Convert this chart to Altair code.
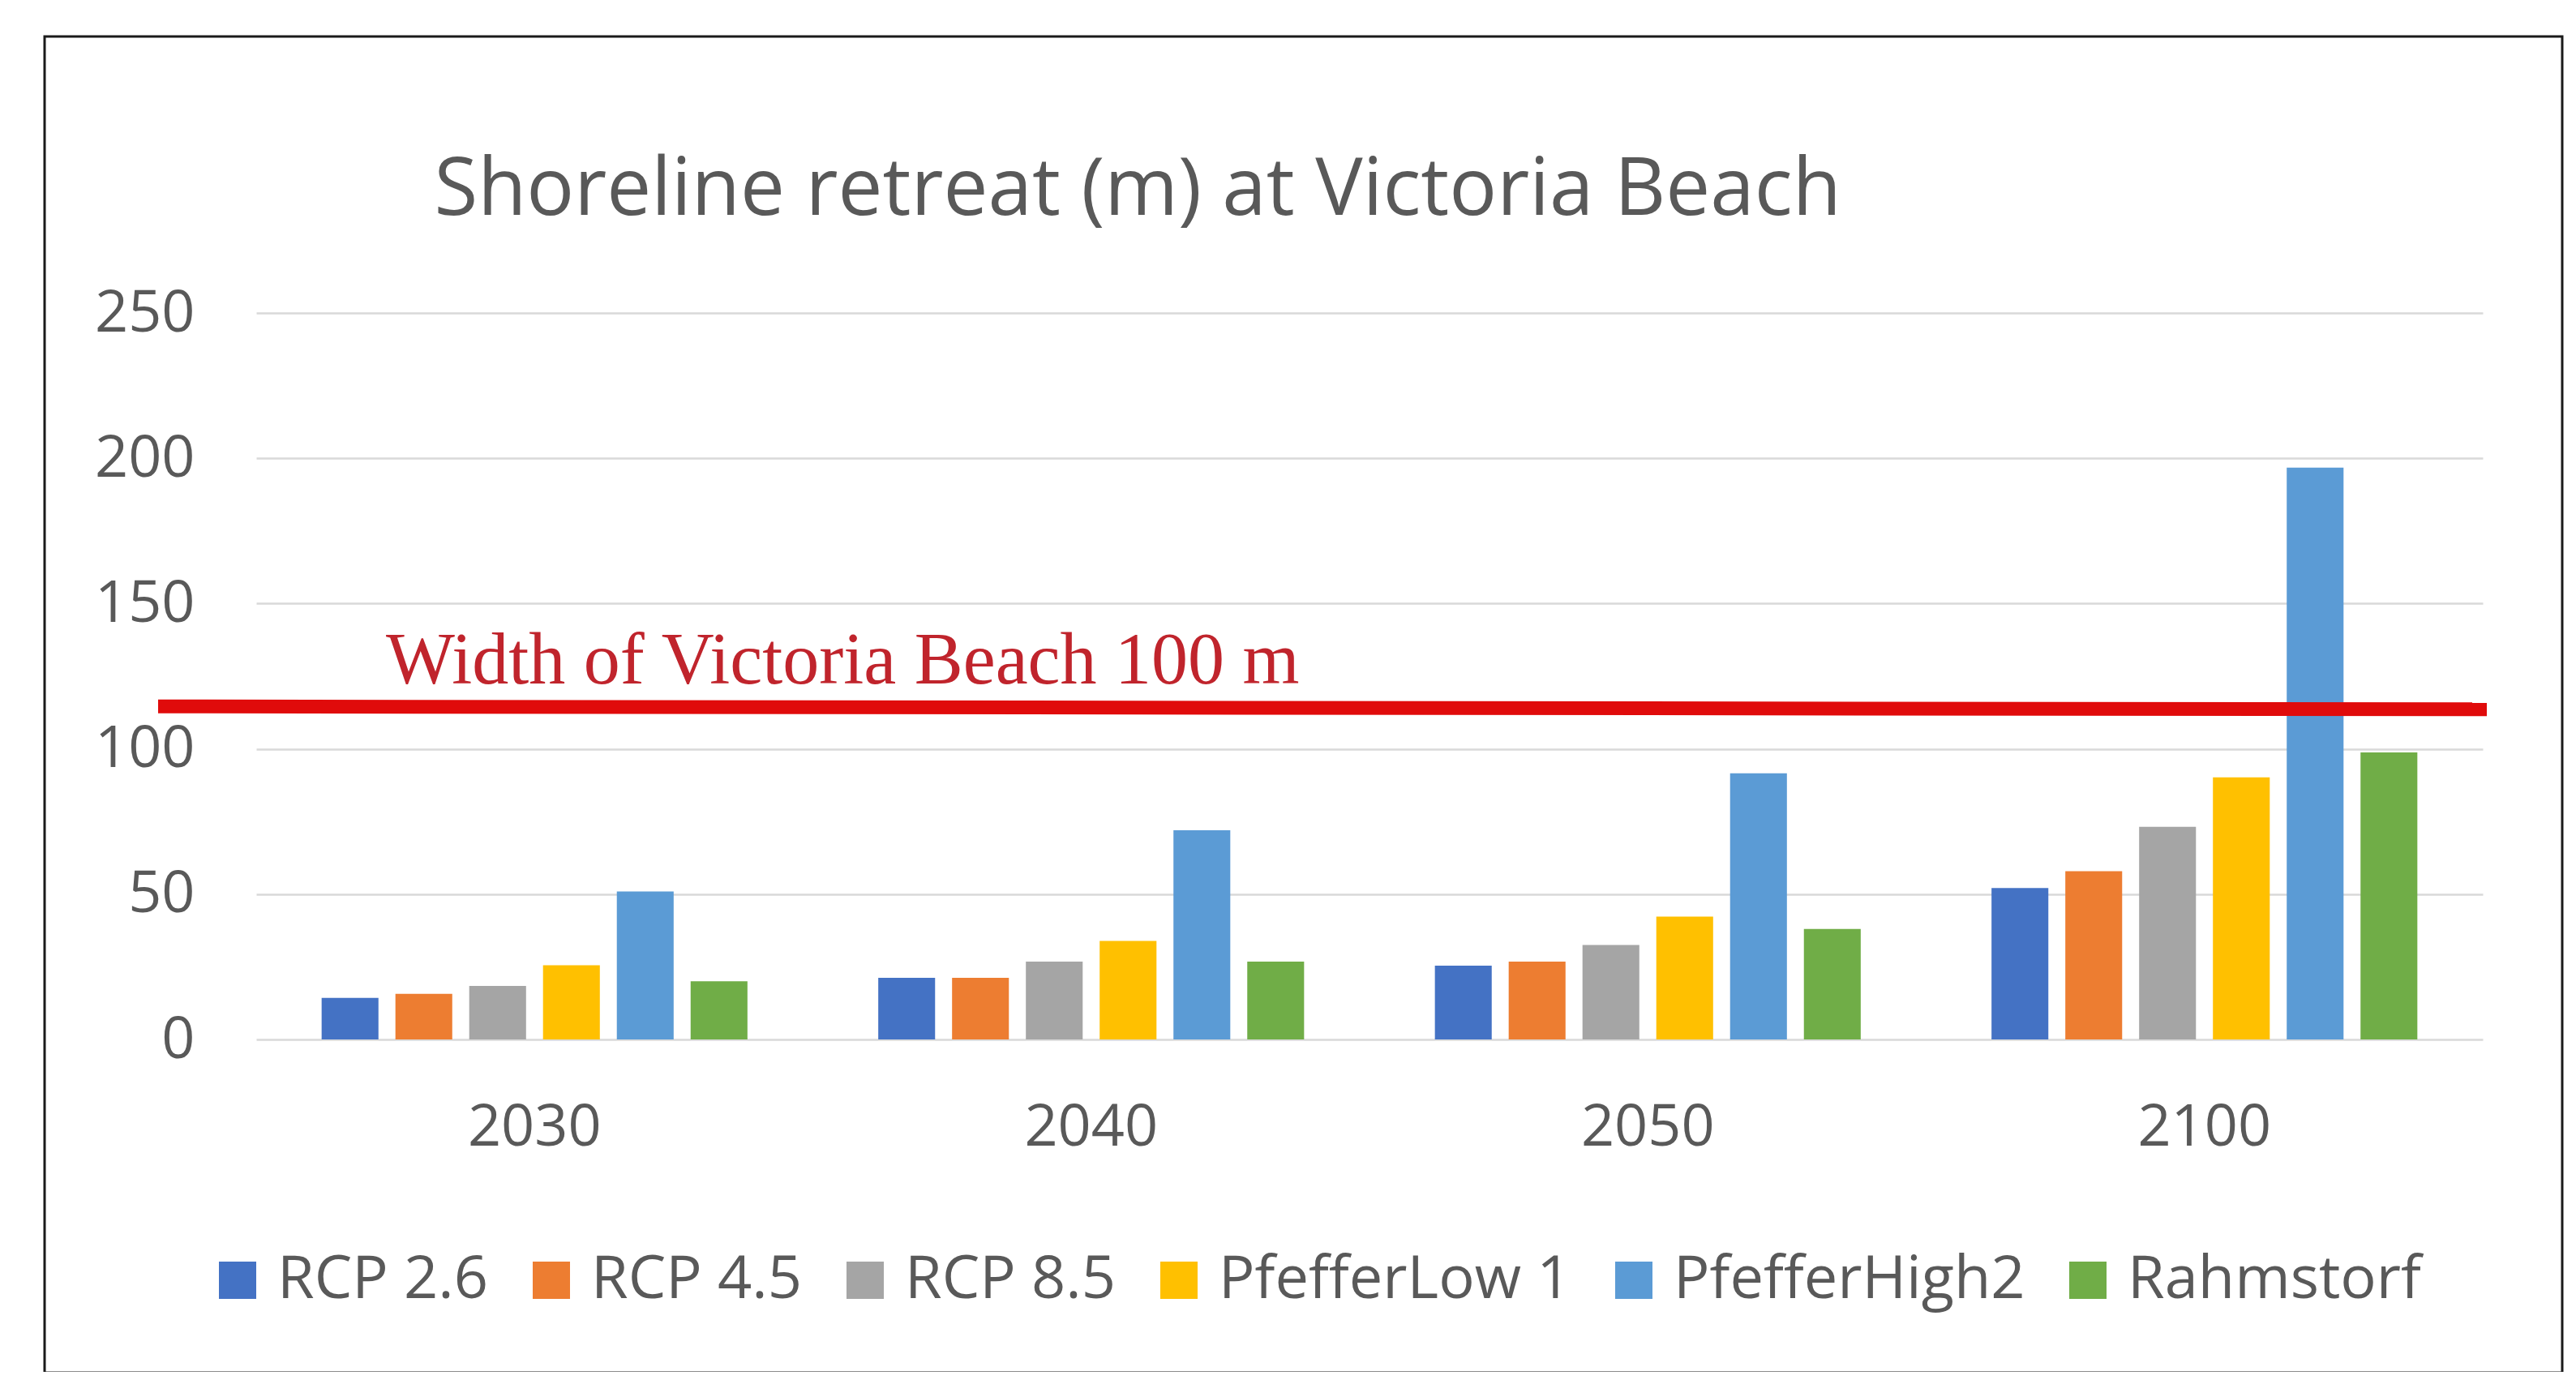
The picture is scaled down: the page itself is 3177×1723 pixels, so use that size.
import altair as alt
import pandas as pd

# ---- data ----
years = ["2030", "2040", "2050", "2100"]
series = ["RCP 2.6", "RCP 4.5", "RCP 8.5", "PfefferLow 1", "PfefferHigh2", "Rahmstorf"]
rcp26 = [14.3, 21.2, 25.4, 52.1]
rcp45 = [15.7, 21.2, 26.8, 57.9]
rcp85 = [18.4, 26.8, 32.5, 73.2]
pfeffer_low = [25.5, 33.9, 42.3, 90.2]
pfeffer_high = [50.9, 72.0, 91.6, 196.8]
rahmstorf = [20.0, 26.8, 38.0, 98.8]
colors = ["#4472C4", "#ED7D31", "#A5A5A5", "#FFC000", "#5B9BD5", "#70AD47"]
y_ticks = [0, 50, 100, 150, 200, 250]

# red "beach width" line (drawn slightly tilted, as in the picture) and its label
beach_line_start = [114.6]
beach_line_end = [113.6]
beach_label = ["Width of Victoria Beach 100 m"]
beach_label_y = [122.5]

title_text = "Shoreline retreat (m) at Victoria Beach"

values = [rcp26, rcp45, rcp85, pfeffer_low, pfeffer_high, rahmstorf]
rows = []
for s, vals in zip(series, values):
    for yr, v in zip(years, vals):
        rows.append({"year": yr, "series": s, "value": v})
df = pd.DataFrame(rows)

W, H = 2746, 896
FONT = "Open Sans"
GREY = "#595959"

y_scale = alt.Scale(domain=[0, 250], nice=False, zero=True)

bars = alt.Chart(df).mark_bar().encode(
    x=alt.X(
        "year:N",
        sort=years,
        scale=alt.Scale(paddingInner=0.235, paddingOuter=0.1175),
        axis=alt.Axis(
            title=None, labelAngle=0, ticks=False, domain=False, grid=False,
            labelFont=FONT, labelFontSize=72, labelColor=GREY,
            labelBaseline="middle", labelPadding=108,
        ),
    ),
    xOffset=alt.XOffset(
        "series:N", sort=series,
        scale=alt.Scale(domain=series, paddingInner=0.23, paddingOuter=0),
    ),
    y=alt.Y(
        "value:Q",
        scale=y_scale,
        axis=alt.Axis(
            title=None, values=y_ticks, ticks=False, domain=False,
            grid=True, gridColor="#D9D9D9", gridWidth=2.5,
            labelFont=FONT, labelFontSize=72, labelColor=GREY, labelPadding=76,
        ),
    ),
    color=alt.Color(
        "series:N",
        sort=series,
        scale=alt.Scale(domain=series, range=colors),
        title=None,
        legend=alt.Legend(
            orient="none", legendX=-60, legendY=1156, direction="horizontal",
            symbolType="square", symbolSize=2116, symbolStrokeWidth=0,
            labelFont=FONT, labelFontSize=74, labelColor=GREY, labelLimit=1000,
            labelOffset=12, columnPadding=40, padding=0,
        ),
    ),
)

line_df = pd.DataFrame({"y1": beach_line_start, "y2": beach_line_end})
red_line = alt.Chart(line_df).mark_rule(color="#E00B0B", strokeWidth=17).encode(
    x=alt.value(-121),
    x2=alt.value(W + 5),
    y=alt.Y("y1:Q", scale=y_scale),
    y2="y2:Q",
)

label_df = pd.DataFrame({"label": beach_label, "y": beach_label_y})
red_text = alt.Chart(label_df).mark_text(
    align="left", baseline="alphabetic", font="Liberation Serif",
    fontSize=90, color="#C0242C",
).encode(
    x=alt.value(160),
    y=alt.Y("y:Q", scale=y_scale),
    text="label:N",
)

frame = alt.Chart(pd.DataFrame({"a": [0]})).mark_rect(
    filled=False, stroke="#1a1a1a", strokeWidth=3,
).encode(
    x=alt.value(-261), x2=alt.value(2844),
    y=alt.value(-341), y2=alt.value(1307),
)

chart = alt.layer(frame, bars, red_line, red_text).properties(
    width=W,
    height=H,
    title=alt.TitleParams(
        text=title_text, anchor="start", dx=482, offset=-319,
        font=FONT, fontSize=98, fontWeight="normal", color=GREY,
        baseline="alphabetic",
    ),
    autosize=alt.AutoSizeParams(type="none"),
    padding={"left": 308, "top": 378, "right": 105, "bottom": 410},
    background="white",
).configure_view(stroke="transparent")

chart.save("out.html", embed_options={"renderer": "svg", "actions": False})
